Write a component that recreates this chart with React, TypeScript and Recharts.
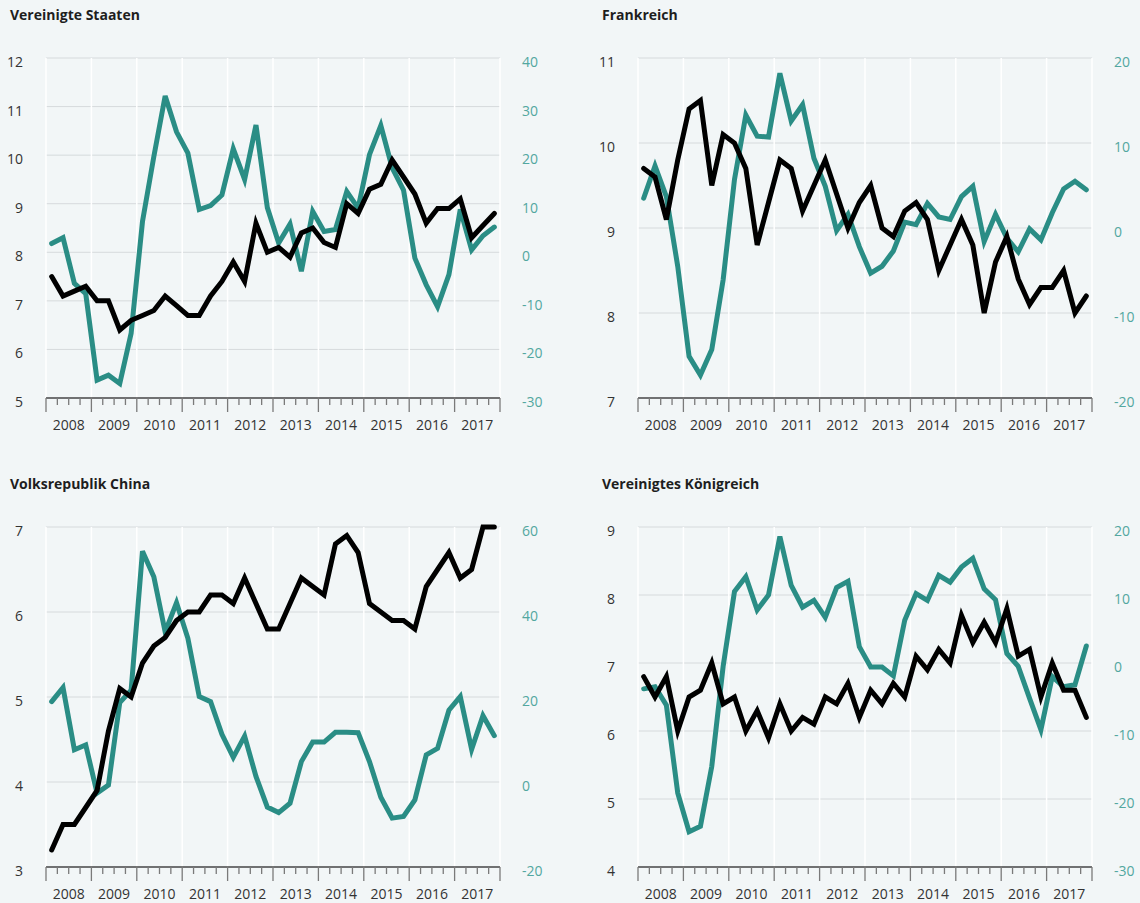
import { LineChart, Line, XAxis, YAxis, CartesianGrid } from "recharts"

const years = [2008, 2009, 2010, 2011, 2012, 2013, 2014, 2015, 2016, 2017]
const quarterNames = ["Q1", "Q2", "Q3", "Q4"]

// black line, left axis
const usRate = [7.5, 7.1, 7.2, 7.3, 7.0, 7.0, 6.4, 6.6, 6.7, 6.8, 7.1, 6.9, 6.7, 6.7, 7.1, 7.4, 7.8, 7.4, 8.6, 8.0, 8.1, 7.9, 8.4, 8.5, 8.2, 8.1, 9.0, 8.8, 9.3, 9.4, 9.9, 9.55, 9.2, 8.6, 8.9, 8.9, 9.1, 8.3, 8.55, 8.8]
// teal line, right axis
const usSurvey = [1.8, 3.0, -6.4, -8.5, -26.3, -25.3, -27.0, -16.7, 6.3, 19.7, 32.2, 24.8, 20.4, 8.8, 9.6, 11.8, 21.3, 15.0, 26.2, 9.2, 1.9, 5.8, -3.9, 8.4, 4.3, 4.7, 12.5, 9.1, 20.1, 26.1, 17.4, 12.8, -1.2, -6.7, -11.2, -4.6, 8.8, 0.5, 3.4, 5.2]

const frRate = [9.7, 9.6, 9.1, 9.8, 10.4, 10.5, 9.5, 10.1, 10.0, 9.7, 8.8, 9.3, 9.8, 9.7, 9.2, 9.5, 9.8, 9.4, 9.0, 9.3, 9.5, 9.0, 8.9, 9.2, 9.3, 9.1, 8.5, 8.8, 9.1, 8.8, 8.0, 8.6, 8.9, 8.4, 8.1, 8.3, 8.3, 8.5, 8.0, 8.2]
const frSurvey = [3.5, 7.3, 3.7, -4.5, -15.1, -17.3, -14.3, -6.1, 5.7, 13.3, 10.8, 10.7, 18.2, 12.6, 14.5, 8.2, 4.9, -0.3, 1.6, -2.2, -5.3, -4.5, -2.7, 0.7, 0.4, 2.9, 1.3, 1.0, 3.7, 4.9, -1.6, 1.6, -1.2, -2.8, -0.1, -1.4, 1.8, 4.6, 5.5, 4.5]

const cnRate = [3.2, 3.5, 3.5, 3.7, 3.9, 4.6, 5.1, 5.0, 5.4, 5.6, 5.7, 5.9, 6.0, 6.0, 6.2, 6.2, 6.1, 6.4, 6.1, 5.8, 5.8, 6.1, 6.4, 6.3, 6.2, 6.8, 6.9, 6.7, 6.1, 6.0, 5.9, 5.9, 5.8, 6.3, 6.5, 6.7, 6.4, 6.5, 7.0, 7.0]
const cnSurvey = [18.9, 22.2, 7.6, 8.7, -2.6, -0.7, 18.7, 21.6, 54.3, 48.3, 35.3, 42.2, 33.8, 20.1, 18.9, 11.2, 5.8, 10.8, 1.3, -5.9, -7.2, -5.0, 4.8, 9.4, 9.4, 11.7, 11.7, 11.6, 4.8, -3.6, -8.5, -8.1, -4.2, 6.4, 7.9, 16.9, 20.1, 7.7, 15.6, 10.9]

const ukRate = [6.8, 6.5, 6.8, 6.0, 6.5, 6.6, 7.0, 6.4, 6.5, 6.0, 6.3, 5.9, 6.4, 6.0, 6.2, 6.1, 6.5, 6.4, 6.7, 6.2, 6.6, 6.4, 6.7, 6.5, 7.1, 6.9, 7.2, 7.0, 7.7, 7.3, 7.6, 7.3, 7.8, 7.1, 7.2, 6.5, 7.0, 6.6, 6.6, 6.2]
const ukSurvey = [-3.8, -3.5, -6.2, -19.1, -24.8, -24.0, -15.2, -0.5, 10.5, 12.7, 7.8, 10.0, 18.6, 11.4, 8.2, 9.2, 6.7, 11.1, 12.0, 2.4, -0.6, -0.6, -1.9, 6.3, 10.2, 9.2, 12.9, 11.9, 14.1, 15.4, 10.9, 9.3, 1.4, -0.5, -5.2, -9.8, -2.0, -3.5, -3.2, 2.5]

const usLeftTicks = [5, 6, 7, 8, 9, 10, 11, 12]
const usRightTicks = [-30, -20, -10, 0, 10, 20, 30, 40]
const frLeftTicks = [7, 8, 9, 10, 11]
const frRightTicks = [-20, -10, 0, 10, 20]
const cnLeftTicks = [3, 4, 5, 6, 7]
const cnRightTicks = [-20, 0, 20, 40, 60]
const ukLeftTicks = [4, 5, 6, 7, 8, 9]
const ukRightTicks = [-30, -20, -10, 0, 10, 20]

// quarter midpoints as decimal years
const quarters = years.flatMap((y) => quarterNames.map((q, k) => ({ label: `${y} ${q}`, t: y + (k + 0.5) / 4 })))
const quarterBounds = [...years.flatMap((y) => [y, y + 0.25, y + 0.5, y + 0.75]), 2018]
const yearBounds = [...years, 2018]

const TEAL = "#2a8d85"
const TEAL_TEXT = "#53a7a0"
const BG = "#f2f6f7"

function QuarterTick(props: any) {
  const { x, y, payload } = props
  const v = payload.value
  const frac = v - Math.floor(v)
  return (
    <g>
      <line x1={x} x2={x} y1={y} y2={y + (frac === 0 ? 14 : 7)} stroke="#7a7a7a" strokeWidth={1.3} />
      {frac === 0.5 && (
        <text x={x} y={y + 32} textAnchor="middle" fontSize={14} fill="#333">
          {Math.floor(v)}
        </text>
      )}
    </g>
  )
}

function LeftTick(props: any) {
  const { x, y, payload } = props
  return (
    <text x={x} y={y + 9} textAnchor="end" fontSize={14} fill="#333">
      {payload.value}
    </text>
  )
}

function RightTick(props: any) {
  const { x, y, payload } = props
  return (
    <text x={x} y={y + 9} textAnchor="start" fontSize={14} fill={TEAL_TEXT}>
      {payload.value}
    </text>
  )
}

function Panel({ title, left, top, height, rate, survey, leftTicks, rightTicks }: any) {
  const data = quarters.map((q, i) => ({ t: q.t, label: q.label, rate: rate[i], survey: survey[i] }))
  return (
    <div style={{ position: "absolute", left, top, width: 548, height }}>
      <div style={{ position: "absolute", left: 10, top: 8, fontSize: 14, lineHeight: "14px", fontWeight: 700, color: "#1e1e1e", whiteSpace: "nowrap" }}>
        {title}
      </div>
      <LineChart width={548} height={height} data={data} margin={{ top: 58, right: 0, bottom: 0, left: 0 }}>
        <CartesianGrid yAxisId="left" vertical={false} stroke="#d6dadc" strokeWidth={1} />
        <CartesianGrid yAxisId="left" horizontal={false} verticalValues={yearBounds} stroke="#ffffff" strokeWidth={1.5} />
        <XAxis
          dataKey="t"
          type="number"
          domain={[2008, 2018]}
          ticks={quarterBounds}
          interval={0}
          height={height - 398}
          tickSize={0}
          tickMargin={0}
          tickLine={false}
          axisLine={{ stroke: "#4a4a4a", strokeWidth: 1.5 }}
          tick={<QuarterTick />}
        />
        <YAxis
          yAxisId="left"
          orientation="left"
          width={46}
          domain={[leftTicks[0], leftTicks[leftTicks.length - 1]]}
          ticks={leftTicks}
          interval={0}
          axisLine={false}
          tickLine={false}
          tickSize={0}
          tickMargin={23}
          tick={<LeftTick />}
        />
        <YAxis
          yAxisId="right"
          orientation="right"
          width={48}
          domain={[rightTicks[0], rightTicks[rightTicks.length - 1]]}
          ticks={rightTicks}
          interval={0}
          axisLine={false}
          tickLine={false}
          tickSize={0}
          tickMargin={22}
          tick={<RightTick />}
        />
        <Line yAxisId="right" type="linear" dataKey="survey" stroke={TEAL} strokeWidth={5} dot={false} strokeLinecap="round" isAnimationActive={false} />
        <Line yAxisId="left" type="linear" dataKey="rate" stroke="#000" strokeWidth={5} dot={false} strokeLinecap="round" isAnimationActive={false} />
      </LineChart>
    </div>
  )
}

export default function App() {
  return (
    <div
      style={{
        position: "absolute",
        left: 0,
        top: 0,
        width: 1140,
        height: 903,
        overflow: "hidden",
        background: BG,
        fontFamily: "'Open Sans', sans-serif",
      }}
    >
      <Panel title="Vereinigte Staaten" left={0} top={0} height={440} rate={usRate} survey={usSurvey} leftTicks={usLeftTicks} rightTicks={usRightTicks} />
      <Panel title="Frankreich" left={592} top={0} height={440} rate={frRate} survey={frSurvey} leftTicks={frLeftTicks} rightTicks={frRightTicks} />
      <Panel title="Volksrepublik China" left={0} top={469} height={434} rate={cnRate} survey={cnSurvey} leftTicks={cnLeftTicks} rightTicks={cnRightTicks} />
      <Panel title="Vereinigtes Königreich" left={592} top={469} height={434} rate={ukRate} survey={ukSurvey} leftTicks={ukLeftTicks} rightTicks={ukRightTicks} />
    </div>
  )
}
